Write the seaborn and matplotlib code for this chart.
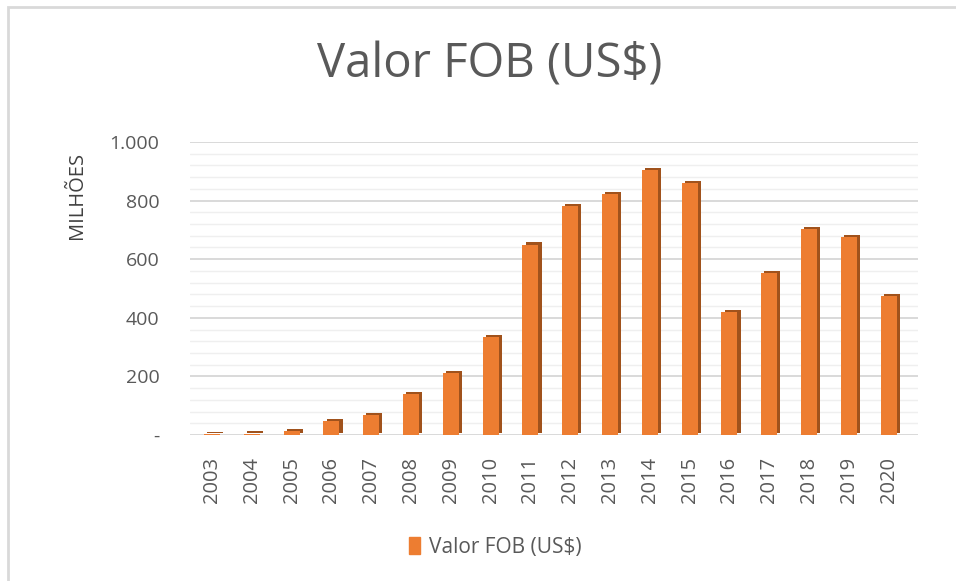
import matplotlib
matplotlib.use("Agg")
import matplotlib.pyplot as plt
import matplotlib.patches as mpatches
import numpy as np
import pandas as pd
import seaborn as sns

years = ["2003", "2004", "2005", "2006", "2007", "2008", "2009", "2010", "2011",
         "2012", "2013", "2014", "2015", "2016", "2017", "2018", "2019", "2020"]
valor_fob = [3, 5, 15, 48, 68, 141, 213, 336, 650,
             781, 824, 903, 860, 419, 552, 703, 677, 473]
y_ticks = [0, 200, 400, 600, 800, 1000]
y_tick_labels = ["-", "200", "400", "600", "800", "1.000"]

ORANGE = "#ED7D31"
SIDE = "#A0521C"
TEXT = "#595959"

sns.set_theme(style="white")
plt.rcParams["font.family"] = ["Open Sans", "DejaVu Sans"]

df = pd.DataFrame({"ano": years, "valor": valor_fob})

fig = plt.figure(figsize=(9.56, 5.81), dpi=100)
ax = fig.add_axes([190 / 956, 1 - 435 / 581, 728 / 956, 293 / 581])

# grid: major every 200, minor every 40
for v in np.arange(40, 1001, 40):
    major = v % 200 == 0
    ax.axhline(v, color="#D9D9D9" if major else "#EFEFEF",
               lw=1.4 if major else 1.0, zorder=0)
ax.axhline(0, color="#D9D9D9", lw=1.4, zorder=0)

# pseudo 3D side of each column
x = np.arange(len(years))
ax.bar(x + 0.08, df["valor"], width=0.4, bottom=7, color=SIDE,
       linewidth=0, zorder=2)
sns.barplot(data=df, x="ano", y="valor", color=ORANGE, width=0.4,
            saturation=1, linewidth=0, edgecolor="none", ax=ax, zorder=3)

ax.set_xlim(-0.553, 17.74)
ax.set_ylim(0, 1000)
ax.set_yticks(y_ticks)
ax.set_yticklabels(y_tick_labels)
ax.tick_params(axis="y", length=0, pad=22, labelsize=14, labelcolor=TEXT)
ax.tick_params(axis="x", length=0, pad=16, labelsize=14.5, labelcolor=TEXT,
               labelrotation=90)
ax.set_xlabel("")
ax.set_ylabel("")
for s in ax.spines.values():
    s.set_visible(False)
ax.patch.set_alpha(0)

fig.text(77 / 956, 1 - 195 / 581, "MILHÕES", rotation=90, ha="center",
         va="center", fontsize=14.5, color="#404040")
fig.text(490 / 956, 1 - 65 / 581, "Valor FOB (US$)", ha="center", va="center",
         fontsize=34, color=TEXT)

handle = mpatches.Patch(color=ORANGE, label="Valor FOB (US$)")
fig.legend(handles=[handle], loc="center", bbox_to_anchor=(495 / 956, 1 - 547 / 581),
           frameon=False, fontsize=15, labelcolor=TEXT, handlelength=0.55,
           handleheight=0.9, handletextpad=0.4)

fig.patches.append(mpatches.Rectangle((8 / 956, -0.1), 1.2, 1 - 7 / 581 + 0.1,
                                      transform=fig.transFigure, fill=False,
                                      edgecolor="#D9D9D9", lw=2))

fig.savefig("out.png", dpi=100)
